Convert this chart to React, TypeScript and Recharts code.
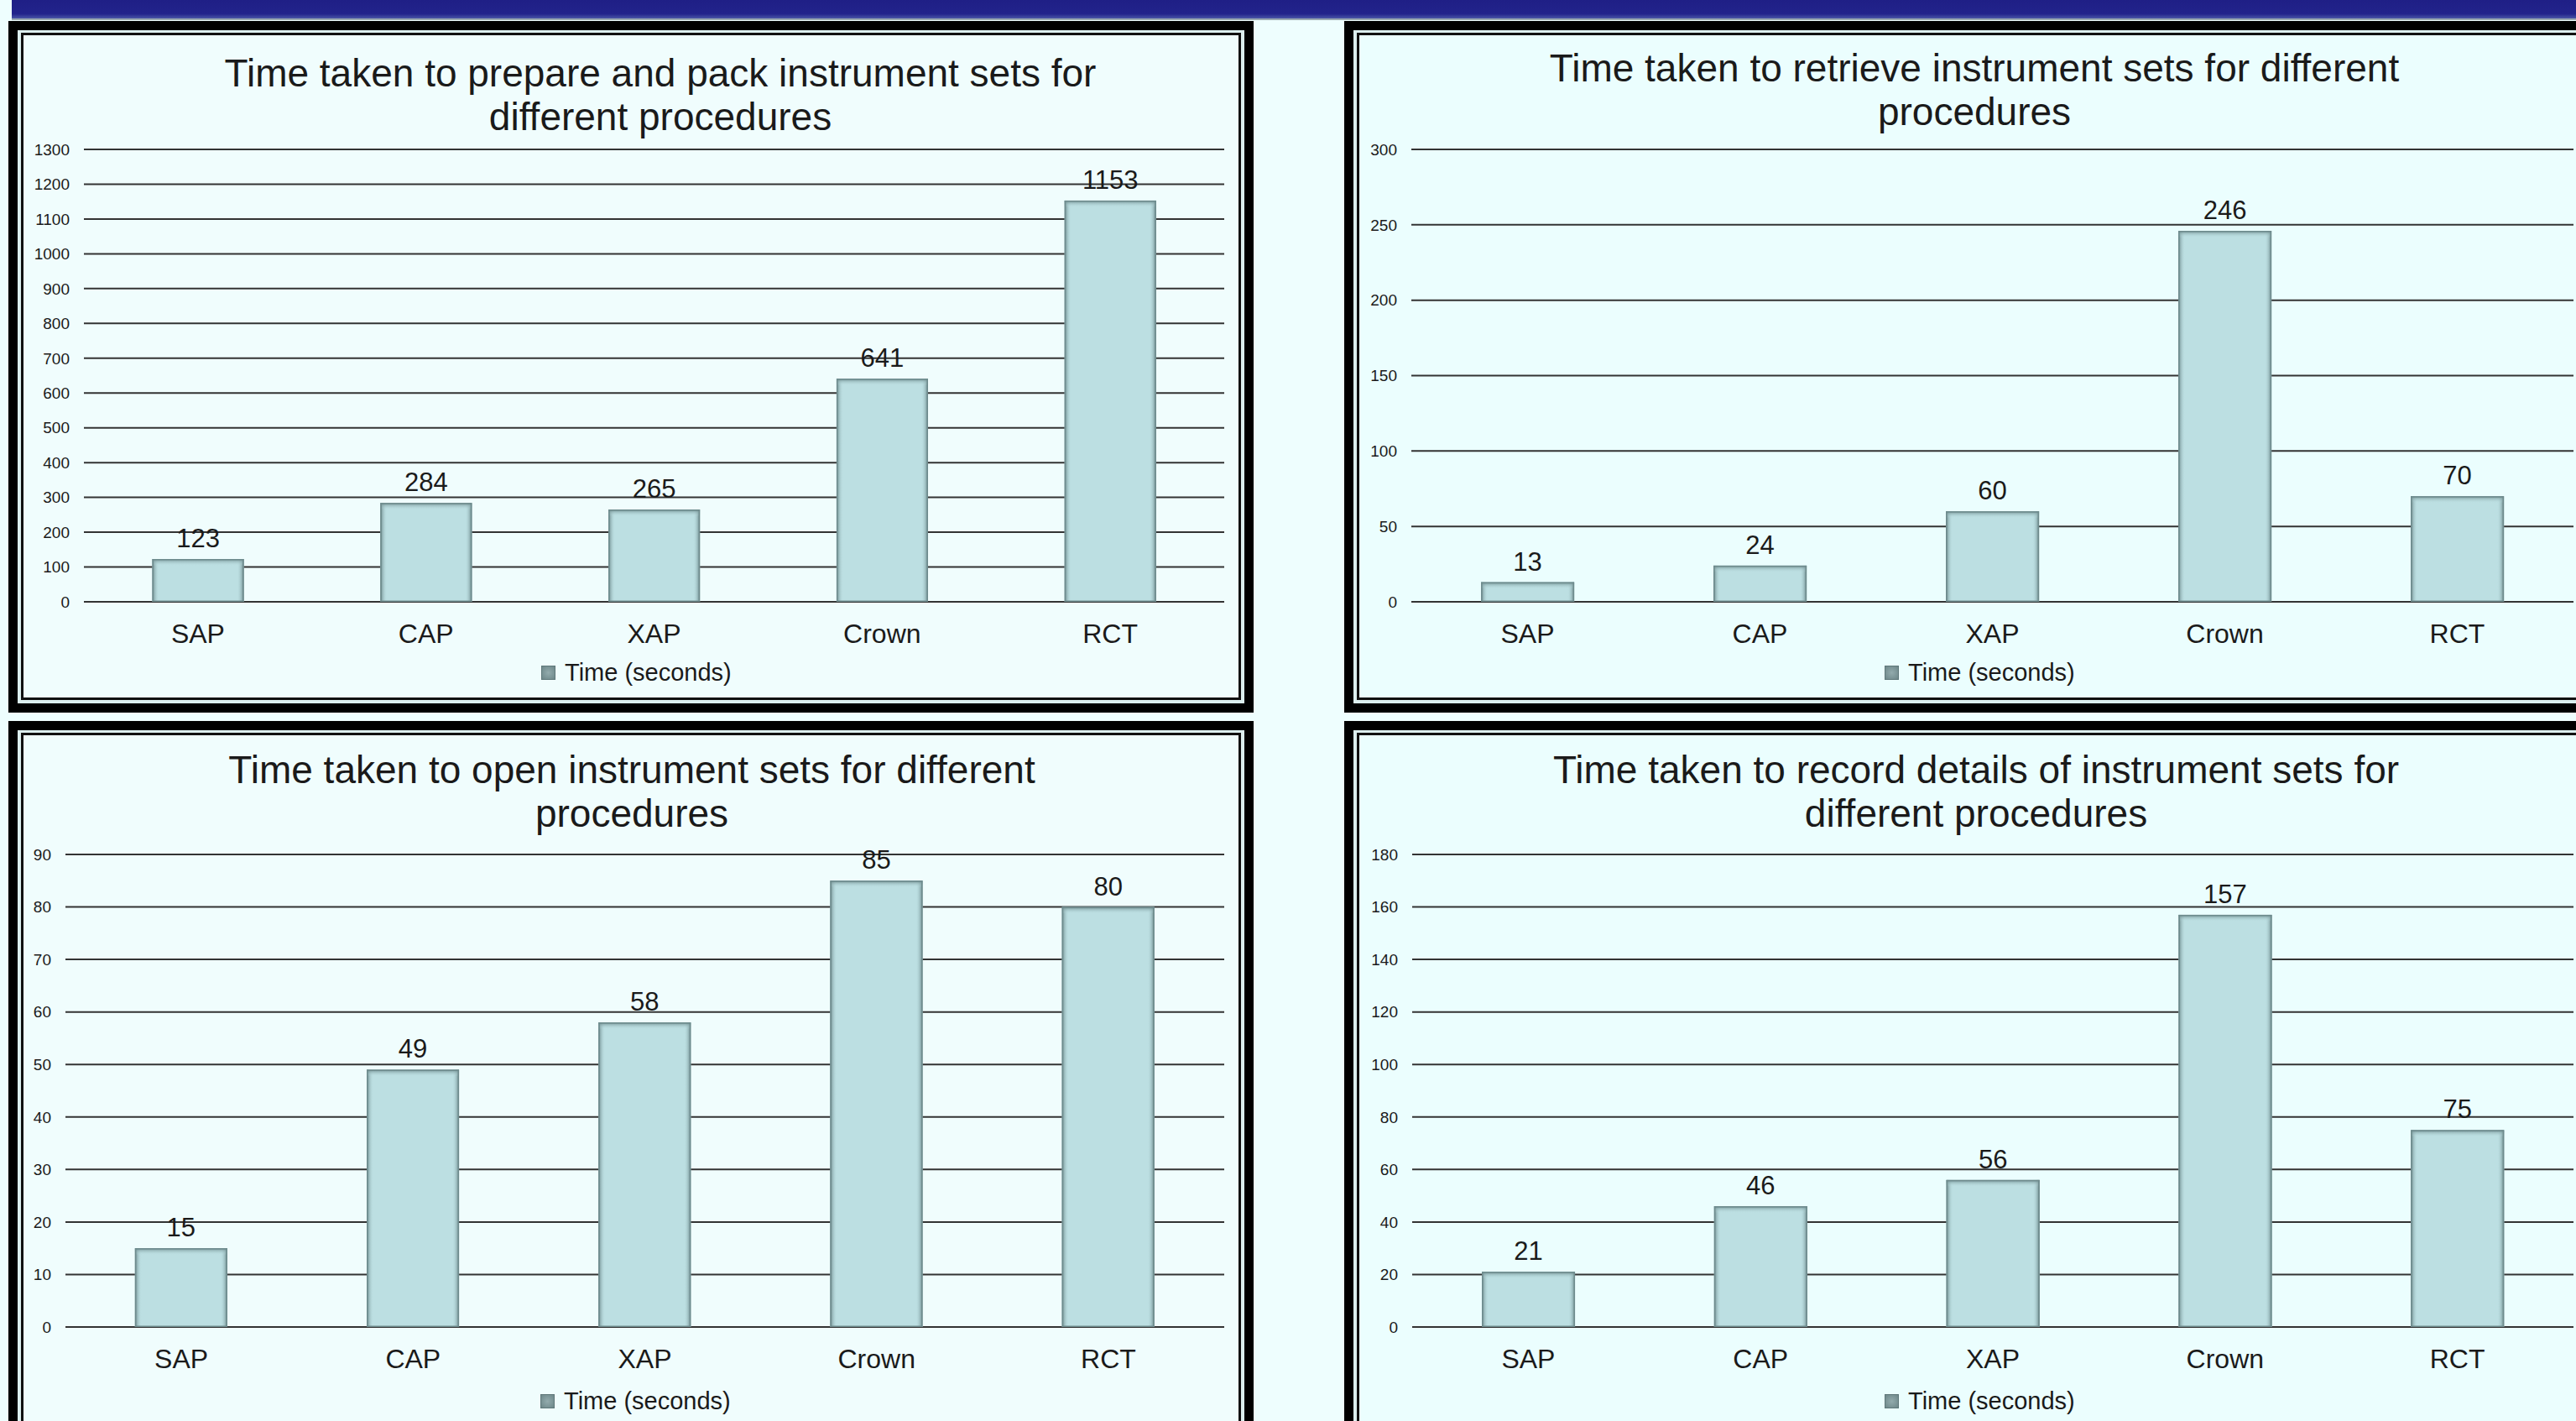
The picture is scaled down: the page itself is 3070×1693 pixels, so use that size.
import React from "react"
import { BarChart, Bar, XAxis, YAxis, CartesianGrid, LabelList, Legend } from "recharts"

const CATEGORIES = ["SAP", "CAP", "XAP", "Crown", "RCT"]
const SERIES_NAME = "Time (seconds)"

const PREPARE_PACK = [123, 284, 265, 641, 1153]
const RETRIEVE = [13, 24, 60, 246, 70]
const OPEN_SETS = [15, 49, 58, 85, 80]
const RECORD_DETAILS = [21, 46, 56, 157, 75]

const PREPARE_TICKS = [0, 100, 200, 300, 400, 500, 600, 700, 800, 900, 1000, 1100, 1200, 1300]
const RETRIEVE_TICKS = [0, 50, 100, 150, 200, 250, 300]
const OPEN_TICKS = [0, 10, 20, 30, 40, 50, 60, 70, 80, 90]
const RECORD_TICKS = [0, 20, 40, 60, 80, 100, 120, 140, 160, 180]

const PREPARE_TITLE = ["Time taken to prepare and pack instrument sets for", "different procedures"]
const RETRIEVE_TITLE = ["Time taken to retrieve instrument sets for different", "procedures"]
const OPEN_TITLE = ["Time taken to open instrument sets for different", "procedures"]
const RECORD_TITLE = ["Time taken to record details of instrument sets for", "different procedures"]

const FONT = '"Liberation Sans", Arial, sans-serif'
const TEXT = "#1a1a1a"

// bar with darker soft edges, like the office "inner shadow" look
const GlassBar = (props: any) => {
  const { x, y, width, height } = props
  if (!height || height <= 0) return null
  const e = Math.min(8, width / 2)
  return (
    <g>
      <rect x={x} y={y} width={width} height={height} fill="#bcdfe2" />
      <rect x={x} y={y} width={e} height={height} fill="url(#edgeL)" />
      <rect x={x + width - e} y={y} width={e} height={height} fill="url(#edgeR)" />
      <rect x={x} y={y} width={width} height={Math.min(e, height)} fill="url(#edgeT)" />
      <rect x={x + 0.75} y={y + 0.75} width={width - 1.5} height={height - 1.5} fill="none" stroke="#6e8b8d" strokeWidth={1.5} />
    </g>
  )
}

const renderLegend = (props: any) => {
  const item = props.payload && props.payload[0]
  return (
    <div style={{ display: "flex", alignItems: "center", fontFamily: FONT, fontSize: 29, color: TEXT, whiteSpace: "nowrap" }}>
      <span style={{ display: "inline-block", width: 15, height: 15, background: "radial-gradient(#93abad, #6d8789)", border: "1px solid #5f7779", marginRight: 11 }} />
      <span>{item ? item.value : SERIES_NAME}</span>
    </div>
  )
}

interface Geo {
  left: number
  top: number
  width: number
  height: number
  margin: { top: number; right: number; bottom: number; left: number }
  legend: { top: number; left: number }
}

function TimeChart({ values, ticks, geo }: { values: number[]; ticks: number[]; geo: Geo }) {
  const data = CATEGORIES.map((name, i) => ({ name, value: values[i] }))
  return (
    <div style={{ position: "absolute", left: geo.left, top: geo.top, width: geo.width, height: geo.height }}>
      <BarChart width={geo.width} height={geo.height} data={data} margin={geo.margin} barCategoryGap="30%" style={{ fontFamily: FONT }}>
        <CartesianGrid vertical={false} stroke="#333333" strokeWidth={2} />
        <XAxis
          dataKey="name"
          axisLine={false}
          tickLine={false}
          tickSize={0}
          tickMargin={26}
          height={60}
          interval={0}
          tick={{ fontSize: 32, fill: TEXT }}
        />
        <YAxis
          domain={[0, ticks[ticks.length - 1]]}
          ticks={ticks}
          axisLine={false}
          tickLine={false}
          tickSize={0}
          tickMargin={17}
          width={60}
          interval={0}
          tick={{ fontSize: 19, fill: TEXT }}
        />
        <Legend
          layout="horizontal"
          verticalAlign="middle"
          align="center"
          wrapperStyle={{ top: geo.legend.top, left: geo.legend.left, width: "auto" }}
          content={renderLegend}
        />
        <Bar dataKey="value" name={SERIES_NAME} isAnimationActive={false} shape={GlassBar}>
          <LabelList dataKey="value" position="top" offset={14} fill={TEXT} fontSize={31} />
        </Bar>
      </BarChart>
    </div>
  )
}

function Frame({ left, top, width, height, bg }: { left: number; top: number; width: number; height: number; bg: string }) {
  return (
    <div style={{ position: "absolute", left, top, width, height, boxSizing: "border-box", border: "11px solid #000", background: "#dcefef" }}>
      <div style={{ position: "absolute", left: 4, top: 3, right: 4, bottom: 4, border: "3px solid #111", background: bg }} />
    </div>
  )
}

function Title({ lines, cx, top }: { lines: string[]; cx: number; top: number }) {
  return (
    <div style={{ position: "absolute", left: cx - 750, top, width: 1500, textAlign: "center", fontFamily: FONT, fontSize: 46, lineHeight: "52px", color: TEXT }}>
      {lines.map((l) => (
        <div key={l}>{l}</div>
      ))}
    </div>
  )
}

const TL: Geo = { left: 0, top: 0, width: 1480, height: 860, margin: { top: 178, right: 21, bottom: 83, left: 40 }, legend: { top: 785, left: 645 } }
const TR: Geo = { left: 1600, top: 0, width: 1470, height: 860, margin: { top: 178, right: 3, bottom: 83, left: 22 }, legend: { top: 785, left: 646 } }
const BL: Geo = { left: 0, top: 860, width: 1480, height: 833, margin: { top: 158, right: 21, bottom: 52, left: 18 }, legend: { top: 793, left: 644 } }
const BR: Geo = { left: 1600, top: 860, width: 1470, height: 833, margin: { top: 158, right: 3, bottom: 52, left: 23 }, legend: { top: 793, left: 646 } }

export default function App() {
  return (
    <div style={{ position: "absolute", left: 0, top: 0, width: 3070, height: 1693, overflow: "hidden", background: "#eefefe", fontFamily: FONT }}>
      <svg width={1} height={1} style={{ position: "absolute", left: 0, top: 0 }}>
        <defs>
          <linearGradient id="edgeL" x1="0" y1="0" x2="1" y2="0">
            <stop offset="0%" stopColor="#6a8789" stopOpacity={1} />
            <stop offset="100%" stopColor="#bcdfe2" stopOpacity={0} />
          </linearGradient>
          <linearGradient id="edgeR" x1="1" y1="0" x2="0" y2="0">
            <stop offset="0%" stopColor="#6a8789" stopOpacity={1} />
            <stop offset="100%" stopColor="#bcdfe2" stopOpacity={0} />
          </linearGradient>
          <linearGradient id="edgeT" x1="0" y1="0" x2="0" y2="1">
            <stop offset="0%" stopColor="#6a8789" stopOpacity={0.9} />
            <stop offset="100%" stopColor="#bcdfe2" stopOpacity={0} />
          </linearGradient>
        </defs>
      </svg>

      <div style={{ position: "absolute", left: 14, top: 0, width: 3056, height: 22, background: "linear-gradient(#1f1f86, #22238b 75%, #4b56a6)", borderBottom: "2px solid #9aa9b0" }} />

      <Frame left={10} top={25} width={1484} height={824} bg="#f0fdfd" />
      <Frame left={1602} top={25} width={1520} height={824} bg="#ebfefe" />
      <Frame left={10} top={859} width={1484} height={900} bg="#f0fdfd" />
      <Frame left={1602} top={859} width={1520} height={900} bg="#ebfefe" />

      <Title lines={PREPARE_TITLE} cx={787} top={61} />
      <Title lines={RETRIEVE_TITLE} cx={2353} top={55} />
      <Title lines={OPEN_TITLE} cx={753} top={891} />
      <Title lines={RECORD_TITLE} cx={2355} top={891} />

      <TimeChart values={PREPARE_PACK} ticks={PREPARE_TICKS} geo={TL} />
      <TimeChart values={RETRIEVE} ticks={RETRIEVE_TICKS} geo={TR} />
      <TimeChart values={OPEN_SETS} ticks={OPEN_TICKS} geo={BL} />
      <TimeChart values={RECORD_DETAILS} ticks={RECORD_TICKS} geo={BR} />
    </div>
  )
}
